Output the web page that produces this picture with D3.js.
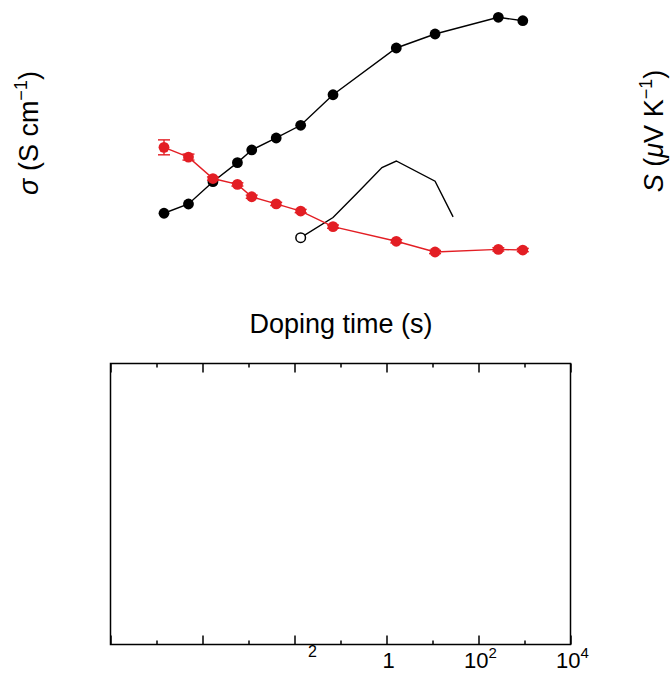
<!DOCTYPE html>
<html>
<head>
<meta charset="utf-8">
<script src="https://cdn.jsdelivr.net/npm/d3@7"></script>
<style>
  body { margin: 0; background: #fff; }
  text { font-family: "Liberation Sans", Arial, Helvetica, sans-serif; fill: #000; }
</style>
</head>
<body>
<div id="chart"></div>
<script>
// doping time (s) shared by both series in the upper panel
const dopingTime = [5, 10, 20, 40, 60, 120, 240, 600, 3600, 10800, 64800, 129600];
// conductivity (S/cm), black filled circles
const sigma = [0.099, 0.149, 0.40, 0.93, 1.63, 2.77, 4.86, 18.8, 149, 277, 580, 499];
// Seebeck coefficient (uV/K), red filled circles, with error
const seebeck = [181, 166, 133, 124, 105, 94, 83, 59, 36.5, 20, 24, 23];
const seebeckErr = [11.5, 4.6, 2.5, 2.5, 2.5, 2.5, 2.5, 2.5, 2.5, 2.5, 2.5, 2.5];
// thin reference curve, open circle at its first point
const refTime = [240, 600, 1200, 2400, 3600, 10800, 18000];
const refS = [42, 73, 111, 150, 160, 129, 74];

// lower (empty) panel axis
const botMajor = [1e-6, 1e-4, 1e-2, 1, 1e2, 1e4];
const botMinor = [1e-5, 1e-3, 1e-1, 1e1, 1e3];
const botLabels = [
  {v: 1e-2, base: "", exp: "2"},
  {v: 1, base: "1", exp: ""},
  {v: 1e2, base: "10", exp: "2"},
  {v: 1e4, base: "10", exp: "4"}
];

const W = 672, H = 675;

const svg = d3.select("#chart")
    .append("svg")
    .attr("width", W)
    .attr("height", H);

// ---- upper panel ----
const xTop = d3.scaleLog().domain([5, 129600]).range([164, 522.8]);
const ySig = d3.scaleLog().domain([0.01, 1000]).range([265, 5]);
const yS = d3.scaleLinear().domain([0, 400]).range([265, 5]);

const gTop = svg.append("g");

// reference thin line
gTop.append("path")
    .datum(refTime.map((t, i) => [t, refS[i]]))
    .attr("fill", "none")
    .attr("stroke", "#000")
    .attr("stroke-width", 1.4)
    .attr("d", d3.line().x(d => xTop(d[0])).y(d => yS(d[1])));

gTop.append("circle")
    .attr("cx", xTop(refTime[0]))
    .attr("cy", yS(refS[0]))
    .attr("r", 4.8)
    .attr("fill", "#fff")
    .attr("stroke", "#000")
    .attr("stroke-width", 1.5);

// sigma series
gTop.append("path")
    .datum(dopingTime.map((t, i) => [t, sigma[i]]))
    .attr("fill", "none")
    .attr("stroke", "#000")
    .attr("stroke-width", 1.4)
    .attr("d", d3.line().x(d => xTop(d[0])).y(d => ySig(d[1])));

gTop.selectAll(".sig")
    .data(dopingTime.map((t, i) => [t, sigma[i]]))
    .enter().append("circle")
    .attr("class", "sig")
    .attr("cx", d => xTop(d[0]))
    .attr("cy", d => ySig(d[1]))
    .attr("r", 5.4)
    .attr("fill", "#000");

// seebeck series
const red = "#e31e24";
const sData = dopingTime.map((t, i) => ({t: t, s: seebeck[i], e: seebeckErr[i]}));

gTop.append("path")
    .datum(sData)
    .attr("fill", "none")
    .attr("stroke", red)
    .attr("stroke-width", 1.4)
    .attr("d", d3.line().x(d => xTop(d.t)).y(d => yS(d.s)));

const eb = gTop.selectAll(".err")
    .data(sData)
    .enter().append("g")
    .attr("class", "err")
    .attr("stroke", red)
    .attr("stroke-width", 1.4);
eb.append("line")
    .attr("x1", d => xTop(d.t)).attr("x2", d => xTop(d.t))
    .attr("y1", d => yS(d.s - d.e)).attr("y2", d => yS(d.s + d.e));
eb.append("line")
    .attr("x1", d => xTop(d.t) - 6).attr("x2", d => xTop(d.t) + 6)
    .attr("y1", d => yS(d.s - d.e)).attr("y2", d => yS(d.s - d.e));
eb.append("line")
    .attr("x1", d => xTop(d.t) - 6).attr("x2", d => xTop(d.t) + 6)
    .attr("y1", d => yS(d.s + d.e)).attr("y2", d => yS(d.s + d.e));

gTop.selectAll(".seeb")
    .data(sData)
    .enter().append("circle")
    .attr("class", "seeb")
    .attr("cx", d => xTop(d.t))
    .attr("cy", d => yS(d.s))
    .attr("r", 5.4)
    .attr("fill", red);

// axis titles
const leftT = svg.append("text")
    .attr("transform", "translate(38,133) rotate(-90)")
    .attr("text-anchor", "middle")
    .style("font-size", "27px");
leftT.append("tspan").style("font-style", "italic").text("σ");
leftT.append("tspan").text(" (S cm");
leftT.append("tspan").attr("dy", -11).style("font-size", "18px").text("−1");
leftT.append("tspan").attr("dy", 11).text(")");

const rightT = svg.append("text")
    .attr("transform", "translate(663,131) rotate(-90)")
    .attr("text-anchor", "middle")
    .style("font-size", "27px");
rightT.append("tspan").style("font-style", "italic").text("S");
rightT.append("tspan").text(" (");
rightT.append("tspan").style("font-style", "italic").text("μ");
rightT.append("tspan").text("V K");
rightT.append("tspan").attr("dy", -11).style("font-size", "18px").text("−1");
rightT.append("tspan").attr("dy", 11).text(")");

svg.append("text")
    .attr("x", 341)
    .attr("y", 333)
    .attr("text-anchor", "middle")
    .style("font-size", "27px")
    .text("Doping time (s)");

// ---- lower panel (empty frame) ----
const xBot = d3.scaleLog().domain([1e-6, 1e4]).range([110.5, 570.5]);
const y0 = 363.5, y1 = 644.5;

const bot = svg.append("g");
bot.append("rect")
    .attr("x", xBot.range()[0])
    .attr("y", y0)
    .attr("width", xBot.range()[1] - xBot.range()[0])
    .attr("height", y1 - y0)
    .attr("fill", "none")
    .attr("stroke", "#000")
    .attr("stroke-width", 1.5);

function ticks(vals, len) {
  bot.append("g")
      .attr("transform", `translate(0,${y1})`)
      .call(d3.axisBottom(xBot).tickValues(vals).tickSize(-len).tickFormat(""))
      .call(g => g.select(".domain").remove())
      .selectAll("line").attr("stroke-width", 1.5);
  bot.append("g")
      .attr("transform", `translate(0,${y0})`)
      .call(d3.axisTop(xBot).tickValues(vals).tickSize(-len).tickFormat(""))
      .call(g => g.select(".domain").remove())
      .selectAll("line").attr("stroke-width", 1.5);
}
ticks(botMajor, 9);
ticks(botMinor, 4);

botLabels.forEach(function(l) {
  const t = bot.append("text")
      .attr("x", xBot(l.v) + (l.base ? 2 : 18))
      .attr("y", 668)
      .attr("text-anchor", "middle")
      .style("font-size", "22px");
  if (l.base) t.append("tspan").text(l.base);
  if (l.exp) {
    t.append("tspan")
        .attr("dy", l.base ? -10 : -11)
        .style("font-size", l.base ? "15px" : "16px")
        .text(l.exp);
  }
});
</script>
</body>
</html>
